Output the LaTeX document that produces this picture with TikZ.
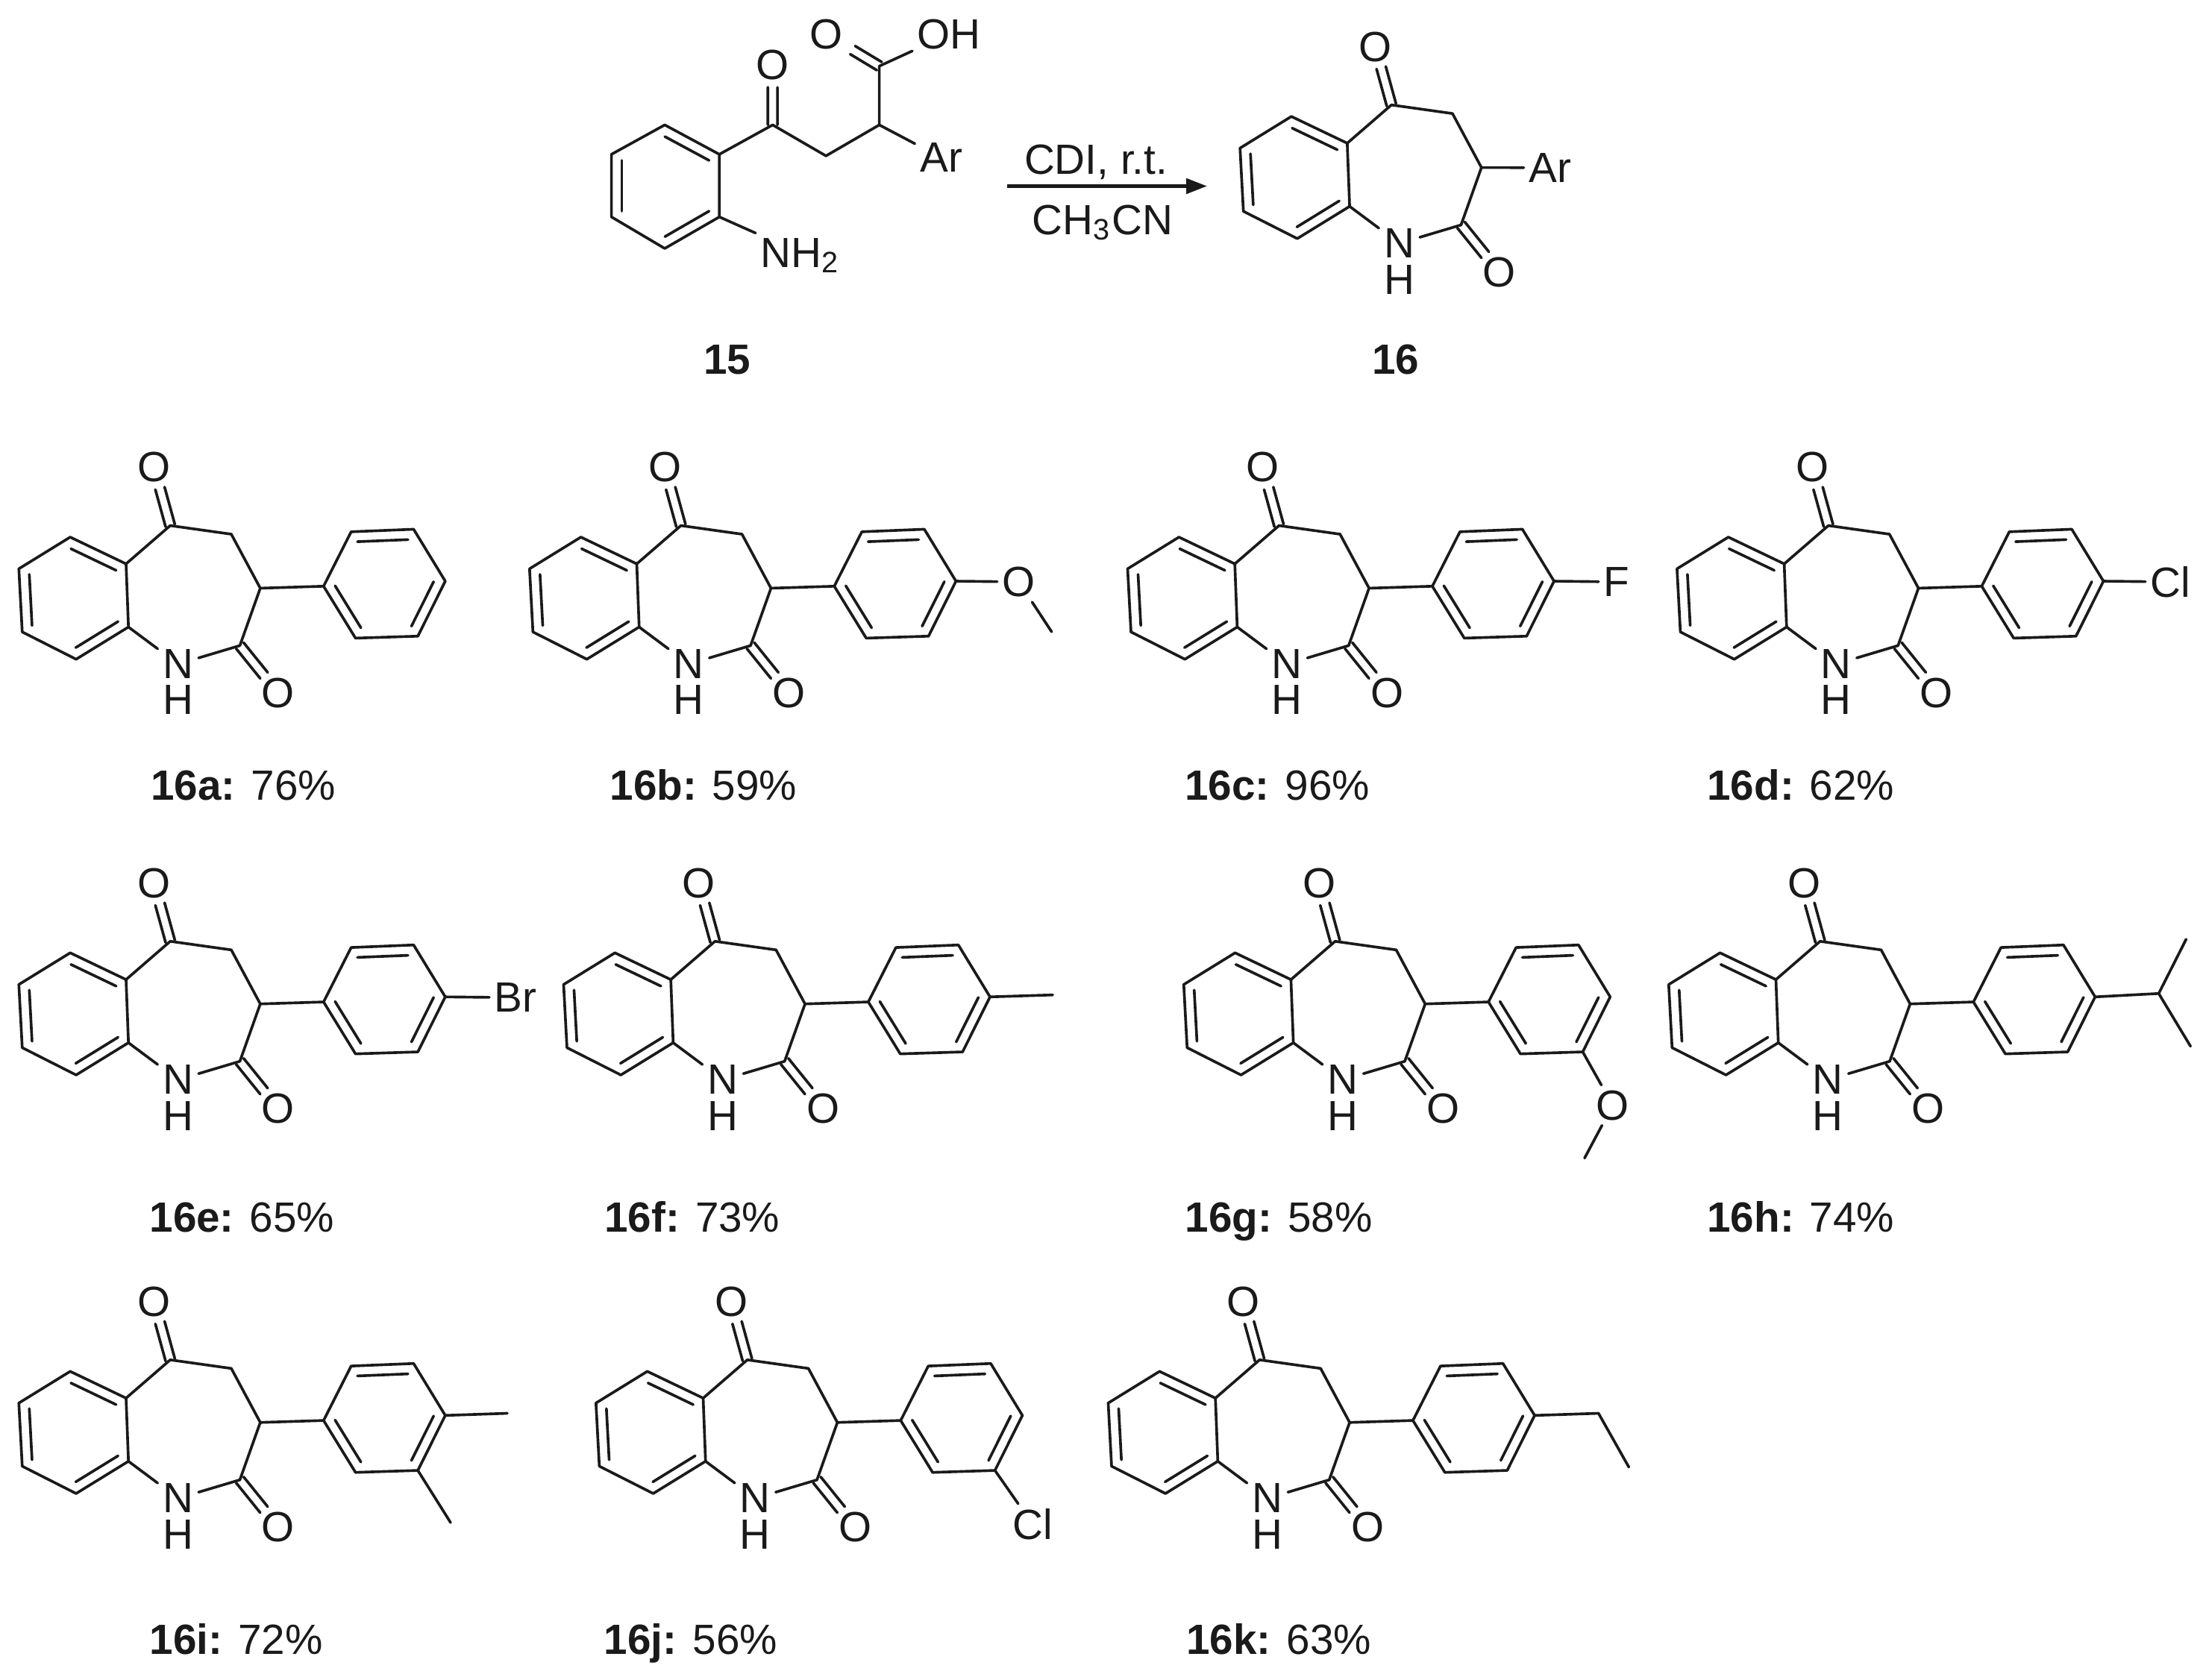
\documentclass[tikz,border=0pt]{standalone}
\usepackage{fontspec}
\setmainfont{Liberation Sans}
\usetikzlibrary{calc,arrows.meta}
\definecolor{ink}{HTML}{1A1A1A}
\tikzset{
  bond/.style={draw=ink, line width=0.55pt, line cap=round, line join=round},
  rxn/.style={draw=ink, line width=0.75pt, -{Triangle[length=4.2pt,width=3pt]}},
  atom/.style={text=ink, font=\fontsize{8.54}{10}\selectfont, inner sep=0.03cm},
  lab/.style={text=ink, font=\fontsize{8.54}{10}\selectfont, inner sep=0pt, text height=6.3pt, text depth=0.2pt}
}
\newcommand{\dbl}[3]{%
  \draw[bond] ($(#1)!0.034cm!90:(#2)$) -- ($($(#1)!#3!(#2)$)!0.034cm!90:(#2)$);
  \draw[bond] ($(#1)!0.034cm!-90:(#2)$) -- ($($(#1)!#3!(#2)$)!0.034cm!-90:(#2)$);}
\newcommand{\inb}[3]{\draw[bond] ($(#1)!0.19!(#3)$) -- ($(#2)!0.19!(#3)$);}
\newcommand{\azepine}[3]{%
  \begin{scope}[shift={(#2,#3)}]
    \coordinate (#1-r1) at (49.9,381.8);
    \coordinate (#1-r2) at (13.4,404.3);
    \coordinate (#1-r3) at (15.8,449.2);
    \coordinate (#1-r4) at (54.1,468.6);
    \coordinate (#1-r5) at (91.3,445.7);
    \coordinate (#1-r6) at (89.6,400.8);
    \coordinate (#1-rc) at (52.5,425.2);
    \coordinate (#1-C5) at (121,373.6);
    \coordinate (#1-C4) at (164.4,379.7);
    \coordinate (#1-C3) at (185,418.1);
    \coordinate (#1-C2) at (170.5,458.9);
    \node[atom] (#1-O5) at (109.6,332.2) {O};
    \node[atom] (#1-O2) at (197.7,492.6) {O};
    \node[atom] (#1-N) at (126.6,472) {N};
    \node[atom] (#1-H) at (126.6,497.6) {H};
  \end{scope}
  \draw[bond] (#1-r1)--(#1-r2)--(#1-r3)--(#1-r4)--(#1-r5)--(#1-r6)--cycle;
  \inb{#1-r1}{#1-r6}{#1-rc}
  \inb{#1-r2}{#1-r3}{#1-rc}
  \inb{#1-r4}{#1-r5}{#1-rc}
  \draw[bond] (#1-r6)--(#1-C5)--(#1-C4)--(#1-C3)--(#1-C2)--(#1-N)--(#1-r5);
  \dbl{#1-C5}{#1-O5}{0.64}
  \dbl{#1-C2}{#1-O2}{0.63}}
\newcommand{\aryl}[3]{%
  \begin{scope}[shift={(#2,#3)}]
    \coordinate (#1-p1) at (230,416.7);
    \coordinate (#1-p2) at (249.6,378);
    \coordinate (#1-p3) at (294,376.2);
    \coordinate (#1-p4) at (316.5,413.1);
    \coordinate (#1-p5) at (297,452.2);
    \coordinate (#1-p6) at (252.7,453.6);
    \coordinate (#1-pc) at (273,415);
  \end{scope}
  \draw[bond] (#1-p1)--(#1-p2)--(#1-p3)--(#1-p4)--(#1-p5)--(#1-p6)--cycle;
  \draw[bond] (#1-C3)--(#1-p1);
  \inb{#1-p2}{#1-p3}{#1-pc}
  \inb{#1-p4}{#1-p5}{#1-pc}
  \inb{#1-p6}{#1-p1}{#1-pc}}
\begin{document}
\begin{tikzpicture}[x=0.01cm,y=-0.01cm]
  \path[use as bounding box, fill=white] (0,0) rectangle (1568,1194);

  % starting acid
  \coordinate (s-r1) at (472.5,88.8);
  \coordinate (s-r2) at (434.6,109.7);
  \coordinate (s-r3) at (434.6,154.2);
  \coordinate (s-r4) at (472.5,176.6);
  \coordinate (s-r5) at (511.3,154.2);
  \coordinate (s-r6) at (511.3,109.7);
  \coordinate (s-rc) at (473,132.5);
  \coordinate (s-C1) at (549.2,88.8);
  \coordinate (s-C2) at (587.1,110.8);
  \coordinate (s-C3) at (625,88.8);
  \coordinate (s-C4) at (625,47);
  \node[atom] (s-O1) at (549.2,46.3) {O};
  \node[atom] (s-O2) at (587.1,24.2) {O};
  \node[atom] (s-OH) at (674.7,24.2) {OH};
  \node[atom] (s-Ar) at (669,112) {Ar};
  \node[atom,anchor=base west] (s-NH) at (537,190) {NH\textsubscript{2}};
  \draw[bond] (s-r1)--(s-r2)--(s-r3)--(s-r4)--(s-r5)--(s-r6)--cycle;
  \inb{s-r1}{s-r6}{s-rc}
  \inb{s-r2}{s-r3}{s-rc}
  \inb{s-r4}{s-r5}{s-rc}
  \draw[bond] (s-r6)--(s-C1)--(s-C2)--(s-C3)--(s-C4)--(s-OH);
  \draw[bond] (s-C3)--(s-Ar);
  \draw[bond] (s-r5)--(s-NH.north west);
  \dbl{s-C1}{s-O1}{0.63}
  \dbl{s-C4}{s-O2}{0.5}
  \node[lab] (lab15) at (517,255) {\textbf{15}};

  % reaction arrow
  \coordinate (arr1) at (716,132.3);
  \coordinate (arr2) at (858,132.3);
  \draw[rxn] (arr1)--(arr2);
  \node[lab] (cond1) at (779,113) {CDI, r.t.};
  \node[lab] (cond2) at (783.6,156) {CH\textsubscript{3}CN};

  % product
  \azepine{t}{868}{-299}
  \node[atom] (t-Ar) at (1101.8,119.2) {Ar};
  \draw[bond] (t-C3)--(t-Ar);
  \node[lab] (lab16) at (992,255) {\textbf{16}};

  % series
  \foreach \nm/\dx/\dy/\lx/\ly/\yld in {
    a/0/0/173/558/76, b/363/0/500/558/59, c/788.1/0/908/558/96, d/1178.6/0/1280/558/62,
    e/0/295.5/172/865/65, f/387.2/295.5/492/865/73, g/828/295.5/909/865/58, h/1172.7/295.5/1280/865/74,
    i/0/593/168/1165/72, j/410.2/593/491/1165/56, k/774.3/593/909/1165/63}{
    \azepine{\nm}{\dx}{\dy}
    \aryl{\nm}{\dx}{\dy}
    \node[lab] (lab-\nm) at (\lx,\ly) {\textbf{16\nm:} \yld\%};
  }

  \node[atom] (b-O) at ($(b-p4)+(44.7,0.5)$) {O};
  \coordinate (b-Me) at ($(b-p4)+(68,36)$);
  \draw[bond] (b-p4)--(b-O)--(b-Me);

  \node[atom] (c-F) at ($(c-p4)+(44.5,0.5)$) {F};
  \draw[bond] (c-p4)--(c-F);

  \node[atom] (d-Cl) at ($(d-p4)+(47.7,0.5)$) {Cl};
  \draw[bond] (d-p4)--(d-Cl);

  \node[atom] (e-Br) at ($(e-p4)+(50,0.5)$) {Br};
  \draw[bond] (e-p4)--(e-Br);

  \coordinate (f-Me) at ($(f-p4)+(44.6,-1.4)$);
  \draw[bond] (f-p4)--(f-Me);

  \node[atom] (g-O) at ($(g-p5)+(21.3,37.9)$) {O};
  \coordinate (g-Me) at ($(g-p5)+(1.3,75.5)$);
  \draw[bond] (g-p5)--(g-O)--(g-Me);

  \coordinate (h-CH) at ($(h-p4)+(45.2,-2.4)$);
  \coordinate (h-Me1) at ($(h-p4)+(64.7,-41)$);
  \coordinate (h-Me2) at ($(h-p4)+(67.8,35.1)$);
  \draw[bond] (h-p4)--(h-CH)--(h-Me1);
  \draw[bond] (h-CH)--(h-Me2);

  \coordinate (i-Me1) at ($(i-p4)+(44.1,-1.5)$);
  \coordinate (i-Me2) at ($(i-p5)+(23.3,37.1)$);
  \draw[bond] (i-p4)--(i-Me1);
  \draw[bond] (i-p5)--(i-Me2);

  \node[atom] (j-Cl) at ($(j-p5)+(26.8,38.4)$) {Cl};
  \draw[bond] (j-p5)--(j-Cl);

  \coordinate (k-C1) at ($(k-p4)+(45.4,-1.5)$);
  \coordinate (k-C2) at ($(k-p4)+(67,36.8)$);
  \draw[bond] (k-p4)--(k-C1)--(k-C2);
\end{tikzpicture}
\end{document}
